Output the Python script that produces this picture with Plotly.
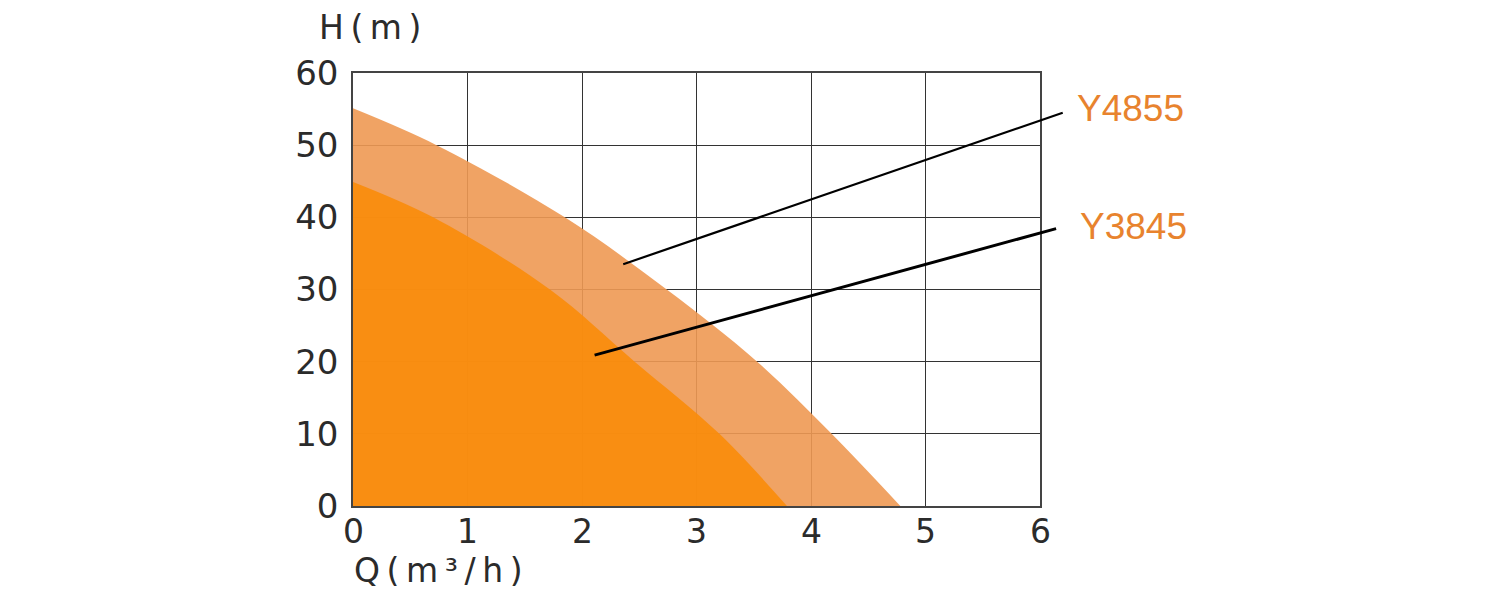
import plotly.graph_objects as go

q_y4855 = [0, 0.73, 1.85, 2.74, 3.53, 4.18, 4.78]
h_y4855 = [55.1, 50, 40, 30, 20, 10, 0]

q_y3845 = [0, 0.7, 1.72, 2.46, 3.2, 3.79]
h_y3845 = [44.9, 40, 30, 20, 10, 0]

models = ["Y4855", "Y3845"]
x_ticks = [0, 1, 2, 3, 4, 5, 6]
y_ticks = [0, 10, 20, 30, 40, 50, 60]

FONT = "Liberation Sans, Arial, sans-serif"
WIDE = "DejaVu Sans, Verdana, sans-serif"
TXT = "#2b2b2b"
LABEL_ORANGE = "#e8832e"

fig = go.Figure()

fig.add_trace(go.Scatter(
    x=q_y4855, y=h_y4855, mode="lines", fill="tozeroy",
    line=dict(width=0, shape="spline", smoothing=1),
    fillcolor="rgba(238,153,83,0.9)", name=models[0], hoverinfo="skip",
))
fig.add_trace(go.Scatter(
    x=q_y3845, y=h_y3845, mode="lines", fill="tozeroy",
    line=dict(width=0, shape="spline", smoothing=1),
    fillcolor="rgba(250,140,9,0.9)", name=models[1], hoverinfo="skip",
))

# leader lines: head on the curve band, tail offset in pixels
fig.add_annotation(x=2.36, y=33.5, xref="x", yref="y", text="",
                   showarrow=True, arrowhead=0, arrowwidth=2.2, arrowcolor="black",
                   ax=441, ay=-152, axref="pixel", ayref="pixel", standoff=0, startstandoff=0)
fig.add_annotation(x=2.11, y=20.9, xref="x", yref="y", text="",
                   showarrow=True, arrowhead=0, arrowwidth=3, arrowcolor="black",
                   ax=463, ay=-127, axref="pixel", ayref="pixel", standoff=0, startstandoff=0)

# model labels
fig.add_annotation(x=1.051, y=0.918, xref="paper", yref="paper", text=models[0],
                   showarrow=False, xanchor="left", yanchor="middle",
                   font=dict(family=FONT, size=37, color=LABEL_ORANGE))
fig.add_annotation(x=1.055, y=0.645, xref="paper", yref="paper", text=models[1],
                   showarrow=False, xanchor="left", yanchor="middle",
                   font=dict(family=FONT, size=37, color=LABEL_ORANGE))

# x tick labels, set close under the axis
for t in x_ticks:
    fig.add_annotation(x=t, y=0, xref="x", yref="paper", text=str(t),
                       showarrow=False, xanchor="center", yanchor="top", yshift=-4,
                       font=dict(family=WIDE, size=33, color=TXT))

# axis titles
fig.add_annotation(x=-0.052, y=1.106, xref="paper", yref="paper",
                   text="H\u2009(\u2009m\u2009)",
                   showarrow=False, xanchor="left", yanchor="middle",
                   font=dict(family=WIDE, size=33, color=TXT))
fig.add_annotation(x=-0.002, y=-0.150, xref="paper", yref="paper",
                   text="Q\u2009(\u2009m\u2009³\u2009/\u2009h\u2009)",
                   showarrow=False, xanchor="left", yanchor="middle",
                   font=dict(family=WIDE, size=33, color=TXT))

fig.update_xaxes(
    range=[0, 6], tickvals=x_ticks, ticks="", showticklabels=False, showgrid=True,
    gridcolor="#333333", gridwidth=1, zeroline=False,
    showline=True, linecolor="#444444", linewidth=1.5, mirror=True,
)
fig.update_yaxes(
    range=[0, 60], tickvals=y_ticks, ticks="", showgrid=True,
    gridcolor="#333333", gridwidth=1, zeroline=False,
    showline=True, linecolor="#444444", linewidth=1.5, mirror=True,
    ticklabelstandoff=6,
    tickfont=dict(family=WIDE, size=34, color=TXT),
)

# page body adds 8px, margins offset for it
fig.update_layout(
    width=1500, height=600,
    margin=dict(l=345, r=468, t=65, b=102),
    plot_bgcolor="white", paper_bgcolor="white",
    showlegend=False,
)

fig.write_html("out.html")
